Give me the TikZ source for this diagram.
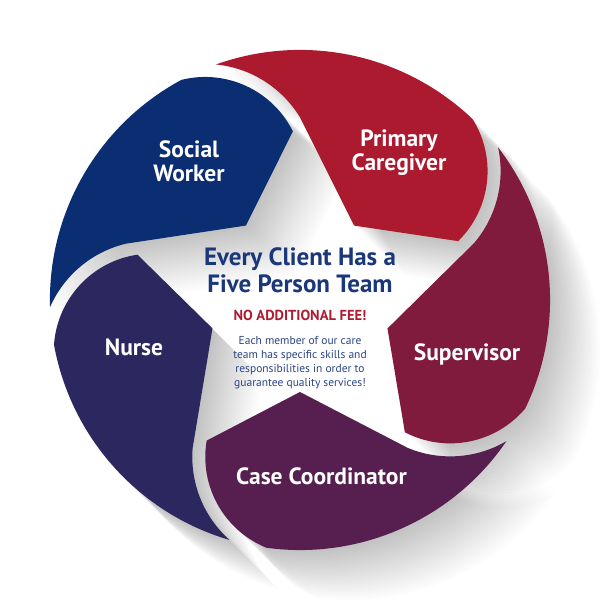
\documentclass[tikz,border=0pt]{standalone}
\usepackage{fontspec}
\setmainfont{PT Sans}
\usetikzlibrary{positioning}

\definecolor{socialblue}{HTML}{0B2D72}
\definecolor{caregiverred}{HTML}{AC1A2F}
\definecolor{supervisormaroon}{HTML}{811B3E}
\definecolor{coordpurple}{HTML}{561F50}
\definecolor{nursenavy}{HTML}{2C285F}
\definecolor{titleblue}{HTML}{1A377A}
\definecolor{feered}{HTML}{AE1C31}
\definecolor{bodyblue}{HTML}{2B4584}

% one petal of the ring, drawn in the frame of the top one
\newcommand\petal{(-83.9,235.5) arc[start angle=84.3, end angle=31.4, radius=111]
  -- (54.1,74.4) -- (158.15,58.87) arc[start angle=-45.6, end angle=32.0, radius=98]
  arc[start angle=46.3, end angle=109.6, radius=250] -- cycle}

\begin{document}
\begin{tikzpicture}[
    x=1pt, y=1pt,
    shade/.style={black, opacity=0.012},
    role/.style={text=white, font=\bfseries\fontsize{23.5}{25}\selectfont, align=center, inner sep=0pt, anchor=base},
    heading/.style={text=titleblue, font=\bfseries\fontsize{25}{27}\selectfont, align=center, inner sep=0pt, anchor=base},
    fee/.style={text=feered, font=\bfseries\fontsize{14.5}{16}\selectfont, inner sep=0pt, anchor=base},
    info/.style={text=bodyblue, font=\fontsize{11.5}{14}\selectfont, align=center, inner sep=0pt, anchor=base}
]

\fill[white] (-300,-300) rectangle (300,300);
\useasboundingbox (-300,-300) rectangle (300,300);

% Shadows
\foreach \k in {0,...,4}
  \foreach \d in {1,...,20}
    \fill[shade, shift={(\d*2.5,-\d*2.5)}, rotate=-72*\k] \petal;

% Petals
\fill[caregiverred] \petal;
\fill[supervisormaroon, rotate=-72] \petal;
\fill[coordpurple, rotate=-144] \petal;
\fill[nursenavy, rotate=-216] \petal;
\fill[socialblue, rotate=-288] \petal;

% Labels (base = last line)
\node (caregiver) [role] at (99,129) {Primary\\Caregiver};
\node (supervisor) [role] at (167,-60) {Supervisor};
\node (coordinator) [role] at (21.5,-184) {Case Coordinator};
\node (nurse) [role] at (-166,-55) {Nurse};
\node (social) [role] at (-111,118) {Social\\Worker};

\node (title) [heading] at (0,8) {Every Client Has a\\Five Person Team};
\node (nofee) [fee] at (0,-20) {NO ADDITIONAL FEE!};
\node (info) [info] at (0,-86) {Each member of our care\\team has specific skills and\\responsibilities in order to\\guarantee quality services!};

\end{tikzpicture}
\end{document}
